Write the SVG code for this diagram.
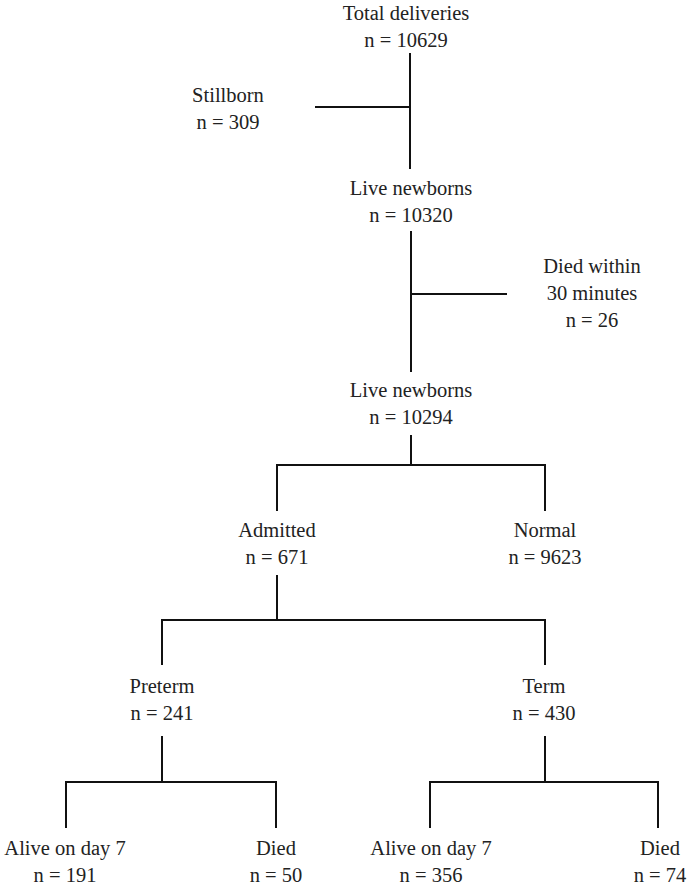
<svg xmlns="http://www.w3.org/2000/svg" width="691" height="887" viewBox="0 0 691 887">
<style>
text{font-family:"Liberation Serif","Times New Roman",serif;font-size:20.5px;fill:#222;text-anchor:middle}
.c line,.c polyline{stroke:#111;stroke-width:2;fill:none}
</style>
<rect width="691" height="887" fill="#fff"/>
<g class="c" id="connectors">
<line x1="410" y1="53" x2="410" y2="169"/>
<line x1="315" y1="107" x2="410" y2="107"/>
<line x1="411" y1="231" x2="411" y2="372"/>
<line x1="411" y1="294" x2="507" y2="294"/>
<line x1="411" y1="435" x2="411" y2="465"/>
<polyline points="277,511 277,465 545,465 545,511"/>
<line x1="277" y1="575" x2="277" y2="620"/>
<polyline points="162,665 162,620 545,620 545,665"/>
<line x1="162" y1="736" x2="162" y2="782"/>
<polyline points="66,828 66,782 276,782 276,828"/>
<line x1="545" y1="736" x2="545" y2="782"/>
<polyline points="430,828 430,782 658,782 658,828"/>
</g>
<g id="total"><text x="406" y="20">Total deliveries</text><text x="406" y="47">n = 10629</text></g>
<g id="stillborn"><text x="228" y="102">Stillborn</text><text x="228" y="129">n = 309</text></g>
<g id="live1"><text x="411" y="195">Live newborns</text><text x="411" y="222">n = 10320</text></g>
<g id="died30"><text x="592" y="273">Died within</text><text x="592" y="300">30 minutes</text><text x="592" y="327">n = 26</text></g>
<g id="live2"><text x="411" y="397">Live newborns</text><text x="411" y="424">n = 10294</text></g>
<g id="admitted"><text x="277" y="537">Admitted</text><text x="277" y="564">n = 671</text></g>
<g id="normal"><text x="545" y="537">Normal</text><text x="545" y="564">n = 9623</text></g>
<g id="preterm"><text x="162" y="693">Preterm</text><text x="162" y="720">n = 241</text></g>
<g id="term"><text x="544" y="693">Term</text><text x="544" y="720">n = 430</text></g>
<g id="alive1"><text x="65" y="855">Alive on day 7</text><text x="65" y="882">n = 191</text></g>
<g id="died1"><text x="276" y="855">Died</text><text x="276" y="882">n = 50</text></g>
<g id="alive2"><text x="431" y="855">Alive on day 7</text><text x="431" y="882">n = 356</text></g>
<g id="died2"><text x="660" y="855">Died</text><text x="660" y="882">n = 74</text></g>
</svg>
